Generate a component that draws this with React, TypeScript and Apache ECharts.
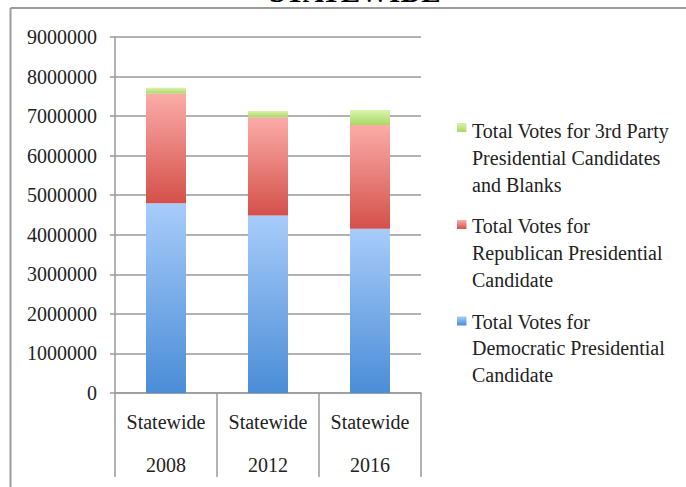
import React, { useEffect, useRef } from 'react';
import * as echarts from 'echarts';

const titleText = 'STATEWIDE';
const categoryPrefix = 'Statewide';
const years = ['2008', '2012', '2016'];
const democraticVotes = [4800000, 4485000, 4150000];
const republicanVotes = [2770000, 2485000, 2625000];
const thirdPartyVotes = [145000, 160000, 380000];
const yTickLabels = ['0', '1000000', '2000000', '3000000', '4000000', '5000000', '6000000', '7000000', '8000000', '9000000'];

const seriesNames = [
  'Total Votes for Democratic Presidential Candidate',
  'Total Votes for Republican Presidential Candidate',
  'Total Votes for 3rd Party Presidential Candidates and Blanks',
];
const legendLines: Record<string, string[]> = {
  [seriesNames[2]]: ['Total Votes for 3rd Party', 'Presidential Candidates', 'and Blanks'],
  [seriesNames[1]]: ['Total Votes for', 'Republican Presidential', 'Candidate'],
  [seriesNames[0]]: ['Total Votes for', 'Democratic Presidential', 'Candidate'],
};

const FONT = '"Liberation Serif", "Times New Roman", serif';
const gradients = [
  ['#a8ccfa', '#4a8dd7'],
  ['#fbaca8', '#d5504a'],
  ['#dbf3ad', '#a9d865'],
];

const grad = (c: string[]) =>
  new echarts.graphic.LinearGradient(0, 0, 0, 1, [
    { offset: 0, color: c[0] },
    { offset: 1, color: c[1] },
  ]);

export default function App() {
  const ref = useRef<HTMLDivElement>(null);
  useEffect(() => {
    if (!ref.current) return;
    const chart = echarts.init(ref.current, undefined, { renderer: 'svg' });
    const yVals = yTickLabels.map(Number);
    const values = [democraticVotes, republicanVotes, thirdPartyVotes];
    const markerTops = [316.5, 220, 123];
    chart.setOption({
      animation: false,
      backgroundColor: '#ffffff',
      grid: { left: 115, right: 265, top: 37, bottom: 93, containLabel: false },
      legend: {
        orient: 'vertical',
        left: 457,
        top: 118,
        padding: 0,
        itemWidth: 10,
        itemHeight: 9,
        itemGap: 15,
        selectedMode: false,
        data: [seriesNames[2], seriesNames[1], seriesNames[0]],
        itemStyle: { opacity: 0 },
        formatter: (name: string) => legendLines[name].join('\n'),
        textStyle: { fontFamily: FONT, fontSize: 20, lineHeight: 26.7, color: '#222' },
      },
      xAxis: {
        type: 'category',
        data: years.map((y) => `${categoryPrefix}\n${y}`),
        boundaryGap: true,
        axisLine: { lineStyle: { color: '#9a9a9a', width: 1.5 } },
        axisTick: { show: true, length: 84, alignWithLabel: false, lineStyle: { color: '#9a9a9a', width: 1.5 } },
        axisLabel: { fontFamily: FONT, fontSize: 20, lineHeight: 43.5, color: '#222', margin: 7, interval: 0 },
        splitLine: { show: false },
      },
      yAxis: {
        type: 'value',
        min: yVals[0],
        max: yVals[yVals.length - 1],
        interval: yVals[1] - yVals[0],
        axisLine: { show: true, lineStyle: { color: '#9a9a9a', width: 1.5 } },
        axisTick: { show: true, length: 5, lineStyle: { color: '#9a9a9a', width: 1.5 } },
        axisLabel: { fontFamily: FONT, fontSize: 20, color: '#222', margin: 18, formatter: (v: number) => String(v) },
        splitLine: { show: true, lineStyle: { color: '#9a9a9a', width: 1.5 } },
      },
      series: seriesNames.map((name, i) => ({
        name,
        type: 'bar',
        stack: 'votes',
        barWidth: 40,
        data: values[i],
        itemStyle: { color: grad(gradients[i]) },
      })),
      graphic: [
        { type: 'line', shape: { x1: 10.5, y1: 8, x2: 686, y2: 8 }, style: { stroke: '#9c9c9c', lineWidth: 2 }, silent: true },
        { type: 'line', shape: { x1: 10.5, y1: 8, x2: 10.5, y2: 487 }, style: { stroke: '#9c9c9c', lineWidth: 2 }, silent: true },
        {
          type: 'text',
          x: 355,
          y: -8,
          style: { text: titleText, fontFamily: FONT, fontSize: 29, fontWeight: 'bold', fill: '#000', align: 'center', verticalAlign: 'middle' },
          silent: true,
        },
        ...markerTops.map((t, i) => ({
          type: 'rect',
          shape: { x: 457, y: t, width: 9.5, height: 9 },
          style: { fill: grad(gradients[i]) },
          silent: true,
        })),
      ],
    });
    return () => chart.dispose();
  }, []);
  return <div ref={ref} style={{ position: 'fixed', left: 0, top: 0, width: 686, height: 487 }} />;
}
